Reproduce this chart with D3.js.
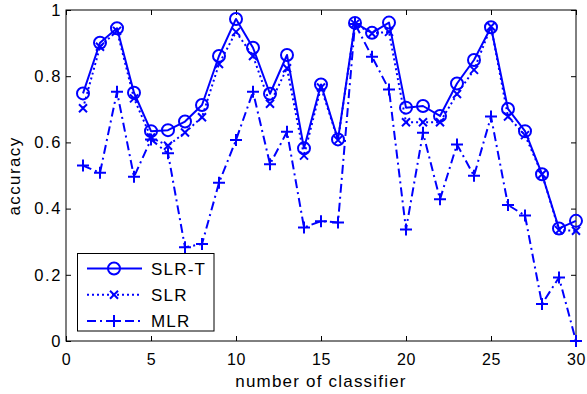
<!DOCTYPE html>
<html>
<head>
<meta charset="utf-8">
<script src="https://cdn.jsdelivr.net/npm/d3@7"></script>
<style>
  html, body { margin: 0; padding: 0; background: #fff; }
  svg { display: block; }
  text { font-family: "Liberation Sans", Arial, Helvetica, sans-serif; fill: #000; }
</style>
</head>
<body>
<svg id="chart" width="587" height="394"></svg>
<script>
const classifiers = d3.range(1, 31);
const slrT = [0.748,0.901,0.945,0.750,0.634,0.637,0.663,0.713,0.861,0.973,0.886,0.747,0.864,0.582,0.775,0.609,0.961,0.931,0.962,0.705,0.710,0.680,0.778,0.849,0.948,0.701,0.634,0.504,0.340,0.363];
const slr  = [0.703,0.889,0.937,0.733,0.615,0.590,0.630,0.676,0.837,0.934,0.861,0.717,0.824,0.560,0.766,0.607,0.958,0.929,0.934,0.661,0.661,0.661,0.746,0.819,0.950,0.678,0.622,0.504,0.335,0.333];
const mlr  = [0.530,0.508,0.753,0.496,0.609,0.567,0.283,0.293,0.478,0.607,0.753,0.534,0.632,0.343,0.362,0.358,0.958,0.859,0.760,0.337,0.629,0.428,0.594,0.499,0.678,0.411,0.379,0.112,0.192,0.000];
const xTicks = [0, 5, 10, 15, 20, 25, 30];
const yTicks = [0, 0.2, 0.4, 0.6, 0.8, 1];
const yTickLabels = ["0", "0.2", "0.4", "0.6", "0.8", "1"];
const seriesNames = ["SLR-T", "SLR", "MLR"];

const blue = "#0000ff";
const svg = d3.select("#chart");
const L = 66, R = 576, T = 10, B = 341;
const x = d3.scaleLinear().domain([0, 30]).range([L, R]);
const y = d3.scaleLinear().domain([0, 1]).range([B, T]);

// Axis box
svg.append("rect").attr("x", L).attr("y", T).attr("width", R - L).attr("height", B - T)
  .attr("fill", "none").attr("stroke", "#000").attr("stroke-width", 1);

const tl = 5;
// bottom axis
const gx = svg.append("g").attr("transform", `translate(0,${B})`)
  .call(d3.axisBottom(x).tickValues(xTicks).tickSizeInner(-tl).tickSizeOuter(0).tickPadding(10).tickFormat(d3.format("d")));
gx.select(".domain").remove();
gx.selectAll("text").attr("font-size", 16).attr("dy", null).attr("y", 24)
  .style("font-family", "'Liberation Sans', Arial, sans-serif").attr("letter-spacing", "0.6px");
// top ticks
const gxt = svg.append("g").attr("transform", `translate(0,${T})`)
  .call(d3.axisTop(x).tickValues(xTicks).tickSizeInner(-tl).tickSizeOuter(0).tickFormat(""));
gxt.select(".domain").remove();
// left axis
const gy = svg.append("g").attr("transform", `translate(${L},0)`)
  .call(d3.axisLeft(y).tickValues(yTicks).tickSizeInner(-tl).tickSizeOuter(0).tickPadding(4)
    .tickFormat((d, i) => yTickLabels[i]));
gy.select(".domain").remove();
gy.selectAll("text").attr("font-size", 16.5).attr("x", -4)
  .style("font-family", "'Liberation Sans', Arial, sans-serif").attr("letter-spacing", "1.6px");
// right ticks
const gyr = svg.append("g").attr("transform", `translate(${R},0)`)
  .call(d3.axisRight(y).tickValues(yTicks).tickSizeInner(-tl).tickSizeOuter(0).tickFormat(""));
gyr.select(".domain").remove();
svg.selectAll(".tick line").attr("stroke", "#000");

// axis labels
svg.append("text").attr("x", 321).attr("y", 387).attr("text-anchor", "middle")
  .attr("font-size", 17).attr("letter-spacing", "1.2px").text("number of classifier");
svg.append("text").attr("transform", `translate(20,176) rotate(-90)`).attr("text-anchor", "middle")
  .attr("font-size", 17).attr("letter-spacing", "1.4px").text("accuracy");

// marker generators
function circleMarker(g, cx, cy) {
  g.append("circle").attr("cx", cx).attr("cy", cy).attr("r", 6)
    .attr("fill", "none").attr("stroke", blue).attr("stroke-width", 2);
}
function xMarker(g, cx, cy) {
  const s = 4;
  g.append("path").attr("d", `M${cx - s},${cy - s}L${cx + s},${cy + s}M${cx - s},${cy + s}L${cx + s},${cy - s}`)
    .attr("stroke", blue).attr("stroke-width", 2).attr("fill", "none");
}
function plusMarker(g, cx, cy) {
  const s = 6;
  g.append("path").attr("d", `M${cx - s},${cy}L${cx + s},${cy}M${cx},${cy - s}L${cx},${cy + s}`)
    .attr("stroke", blue).attr("stroke-width", 2).attr("fill", "none");
}

const series = [
  { name: seriesNames[0], values: slrT, dash: null, marker: circleMarker },
  { name: seriesNames[1], values: slr, dash: "2,3", marker: xMarker },
  { name: seriesNames[2], values: mlr, dash: "9,4,2,4", marker: plusMarker }
];

const line = d3.line().x((d, i) => x(classifiers[i])).y(d => y(d));

series.forEach(s => {
  const g = svg.append("g");
  g.append("path").datum(s.values).attr("d", line)
    .attr("fill", "none").attr("stroke", blue).attr("stroke-width", 2)
    .attr("stroke-dasharray", s.dash).attr("stroke-linejoin", "round");
  s.values.forEach((v, i) => s.marker(g, x(classifiers[i]), y(v)));
});

// legend
const lg = svg.append("g");
lg.append("rect").attr("x", 77.5).attr("y", 253.5).attr("width", 136.5).attr("height", 77.5)
  .attr("fill", "#fff").attr("stroke", "#000").attr("stroke-width", 1);
series.forEach((s, i) => {
  const cy = 268.5 + i * 26.2;
  lg.append("line").attr("x1", 87).attr("x2", 142).attr("y1", cy).attr("y2", cy)
    .attr("stroke", blue).attr("stroke-width", 2).attr("stroke-dasharray", s.dash);
  s.marker(lg, 114, cy);
  lg.append("text").attr("x", 151).attr("y", cy + 6).attr("font-size", 17)
    .attr("letter-spacing", "1.2px").text(s.name);
});
</script>
</body>
</html>
